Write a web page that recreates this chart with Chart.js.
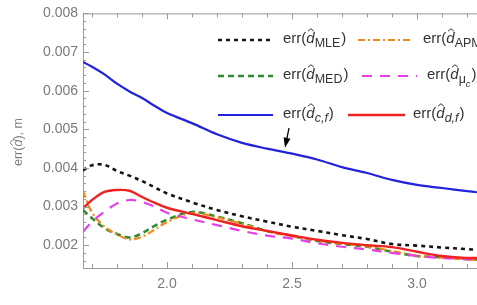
<!DOCTYPE html>
<html>
<head>
<meta charset="utf-8">
<script src="https://cdn.jsdelivr.net/npm/chart.js@4"></script>
<style>
  html, body { margin: 0; padding: 0; background: #fff; }
  #wrap { width: 477px; height: 305px; }
</style>
</head>
<body>
<div id="wrap"><canvas id="chart" width="477" height="305"></canvas></div>
<script>
// data
const xs      = [1.664, 1.70, 1.75, 1.80, 1.85, 1.90, 1.95, 2.0, 2.1, 2.2, 2.3, 2.4, 2.5, 2.6, 2.7, 2.8, 2.9, 3.0, 3.1, 3.2, 3.24];
const errMLE  = [0.00394, 0.00407, 0.00408, 0.00392, 0.00380, 0.00366, 0.00350, 0.00334, 0.00311, 0.00291, 0.00275, 0.00261, 0.00248, 0.00237, 0.00226, 0.00216, 0.00203, 0.00199, 0.00194, 0.00190, 0.00188];
const errAPM  = [0.00340, 0.00285, 0.00248, 0.00228, 0.00215, 0.00222, 0.00240, 0.00260, 0.00283, 0.00272, 0.00255, 0.00236, 0.00223, 0.00212, 0.00204, 0.00197, 0.00185, 0.00173, 0.00168, 0.00163, 0.00162];
const errMED  = [0.00291, 0.00270, 0.00244, 0.00229, 0.00220, 0.00231, 0.00250, 0.00266, 0.00286, 0.00274, 0.00257, 0.00237, 0.00224, 0.00211, 0.00203, 0.00196, 0.00183, 0.00172, 0.00169, 0.00164, 0.00163];
const errMuC  = [0.00235, 0.00261, 0.00287, 0.00308, 0.00317, 0.00312, 0.00300, 0.00284, 0.00267, 0.00252, 0.00237, 0.00225, 0.00217, 0.00205, 0.00196, 0.00189, 0.00180, 0.00172, 0.00167, 0.00164, 0.00162];
const errCF   = [0.00674, 0.00662, 0.00642, 0.00618, 0.00598, 0.00581, 0.00561, 0.00542, 0.00516, 0.00487, 0.00465, 0.00450, 0.00437, 0.00422, 0.00402, 0.00387, 0.00369, 0.00356, 0.00348, 0.00340, 0.00337];
const errDF   = [0.00296, 0.00317, 0.00338, 0.00343, 0.00341, 0.00325, 0.00310, 0.00297, 0.00281, 0.00265, 0.00249, 0.00237, 0.00225, 0.00214, 0.00206, 0.00200, 0.00195, 0.00183, 0.00172, 0.00167, 0.00167];

const xTicks = [2.0, 2.5, 3.0];
const yTicks = [0.002, 0.003, 0.004, 0.005, 0.006, 0.007, 0.008];
const xRange = [1.664, 3.24];
const yRange = [0.00141, 0.008];

// legend subscripts: t = text, it = italic, sub = second-level subscript
const subMLE = [{ t: 'MLE' }];
const subAPM = [{ t: 'APM' }];
const subMED = [{ t: 'MED' }];
const subMuC = [{ t: 'μ' }, { t: 'c', it: true, sub: true }];
const subCF  = [{ t: 'c,f', it: true }];
const subDF  = [{ t: 'd,f', it: true }];

const pts = ys => xs.map((x, i) => ({ x: x, y: ys[i] }));

function series(label, ys, color, dash, width, order) {
    return {
        label: label.map(s => s.t).join(''),
        sub: label,
        data: pts(ys),
        borderColor: color,
        backgroundColor: color,
        borderDash: dash,
        borderWidth: width,
        pointRadius: 0,
        tension: 0.35,
        fill: false,
        order: order
    };
}

const FONT = '"Liberation Sans", Arial, sans-serif';

function drawHatD(ctx, x, y, size) {
    // italic d with a hat over it
    ctx.font = 'italic ' + size + 'px ' + FONT;
    ctx.fillText('d', x, y);
    const w = ctx.measureText('d').width;
    const cx = x + w * 0.55;
    const top = y - size * 0.95;
    ctx.beginPath();
    ctx.moveTo(cx - 3, top + 2.5);
    ctx.lineTo(cx, top);
    ctx.lineTo(cx + 3, top + 2.5);
    ctx.lineWidth = 1;
    ctx.stroke();
    return w;
}

function drawErr(ctx, x, y, sub, size, subSize) {
    ctx.font = size + 'px ' + FONT;
    ctx.fillText('err(', x, y);
    x += ctx.measureText('err(').width;
    x += drawHatD(ctx, x, y, size);
    sub.forEach(s => {
        const sz = s.sub ? subSize - 3 : subSize;
        const dy = s.sub ? 8 : 4;
        ctx.font = (s.it ? 'italic ' : '') + sz + 'px ' + FONT;
        ctx.fillText(s.t, x, y + dy);
        x += ctx.measureText(s.t).width;
    });
    ctx.font = size + 'px ' + FONT;
    ctx.fillText(')', x + 1, y);
}

const framePlugin = {
    id: 'frame',
    afterDatasetsDraw(chart) {
        const { ctx, chartArea: a, scales: { x, y } } = chart;
        ctx.save();
        ctx.strokeStyle = '#9a9a9a';
        ctx.lineWidth = 1;
        ctx.beginPath();
        ctx.moveTo(a.left, a.top + 0.5);
        ctx.lineTo(a.right, a.top + 0.5);
        // x ticks, every 0.1, on bottom and top, pointing in
        for (let i = 17; i <= 32; i++) {
            const v = i / 10;
            const px = Math.round(x.getPixelForValue(v)) + 0.5;
            const len = (i % 5 === 0) ? 6 : 4;
            ctx.moveTo(px, a.bottom);
            ctx.lineTo(px, a.bottom - len);
            ctx.moveTo(px, a.top);
            ctx.lineTo(px, a.top + len);
        }
        // y ticks, every 0.0002, pointing in
        for (let i = 8; i <= 40; i++) {
            const v = i * 0.0002;
            const py = Math.round(y.getPixelForValue(v)) + 0.5;
            const len = (i % 5 === 0) ? 6 : 3;
            ctx.moveTo(a.left, py);
            ctx.lineTo(a.left + len, py);
        }
        ctx.stroke();

        // arrow pointing at the blue curve
        const x0 = x.getPixelForValue(2.488), y0 = y.getPixelForValue(0.00503);
        const x1 = x.getPixelForValue(2.472), y1 = y.getPixelForValue(0.00452);
        const ang = Math.atan2(y1 - y0, x1 - x0);
        ctx.strokeStyle = '#000';
        ctx.fillStyle = '#000';
        ctx.lineWidth = 1.3;
        ctx.beginPath();
        ctx.moveTo(x0, y0);
        ctx.lineTo(x1 - Math.cos(ang) * 6, y1 - Math.sin(ang) * 6);
        ctx.stroke();
        ctx.beginPath();
        ctx.moveTo(x1, y1);
        ctx.lineTo(x1 - Math.cos(ang) * 10 + Math.sin(ang) * 3.5, y1 - Math.sin(ang) * 10 - Math.cos(ang) * 3.5);
        ctx.lineTo(x1 - Math.cos(ang) * 10 - Math.sin(ang) * 3.5, y1 - Math.sin(ang) * 10 + Math.cos(ang) * 3.5);
        ctx.closePath();
        ctx.fill();

        // y axis title
        ctx.fillStyle = '#808080';
        ctx.strokeStyle = '#808080';
        ctx.textBaseline = 'alphabetic';
        ctx.translate(22, 166);
        ctx.rotate(-Math.PI / 2);
        ctx.font = '12.5px ' + FONT;
        let tx = 0;
        ctx.fillText('err(', tx, 0);
        tx += ctx.measureText('err(').width;
        tx += drawHatD(ctx, tx, 0, 12.5);
        ctx.font = '12.5px ' + FONT;
        ctx.fillText('), m', tx, 0);
        ctx.restore();
    }
};

const legendPlugin = {
    id: 'mlegend',
    afterDraw(chart) {
        const ctx = chart.ctx;
        // line start, line end, text start for each legend item
        const slots = [
            [218, 273, 283], [358, 412, 423],
            [218, 273, 283], [362, 417, 427],
            [218, 273, 283], [348, 405, 413]
        ];
        const rows = [40, 76, 115];
        ctx.save();
        chart.data.datasets.forEach((ds, i) => {
            const c = slots[i];
            const ry = rows[Math.floor(i / 2)];
            ctx.strokeStyle = ds.borderColor;
            ctx.lineWidth = ds.borderWidth;
            ctx.setLineDash(ds.borderDash || []);
            ctx.beginPath();
            ctx.moveTo(c[0], ry);
            ctx.lineTo(c[1], ry);
            ctx.stroke();
            ctx.setLineDash([]);
            ctx.fillStyle = '#333';
            ctx.strokeStyle = '#333';
            ctx.textBaseline = 'alphabetic';
            drawErr(ctx, c[2], ry + 3, ds.sub, 15, 12.5);
        });
        ctx.restore();
    }
};

new Chart(document.getElementById('chart'), {
    type: 'line',
    data: {
        datasets: [
            series(subMLE, errMLE, '#141414', [4, 4], 2.6, 3),
            series(subAPM, errAPM, '#ef8a1a', [7, 3, 2, 3], 2.2, 4),
            series(subMED, errMED, '#2e8b2e', [6, 4], 2.6, 5),
            series(subMuC, errMuC, '#e83ee8', [10, 8], 2.2, 2),
            series(subCF,  errCF,  '#2222dd', [], 2.2, 6),
            series(subDF,  errDF,  '#ee2222', [], 2.4, 1)
        ]
    },
    options: {
        responsive: false,
        animation: false,
        layout: { padding: { top: 13, right: 0, left: 0, bottom: 0 } },
        plugins: { legend: { display: false }, tooltip: { enabled: false } },
        scales: {
            x: {
                type: 'linear',
                min: xRange[0],
                max: xRange[1],
                afterBuildTicks: s => { s.ticks = xTicks.map(v => ({ value: v })); },
                afterFit: s => { s.height = 37; },
                grid: { display: false, drawTicks: false },
                border: { display: true, color: '#9a9a9a', width: 1 },
                ticks: {
                    padding: 8,
                    color: '#7a7a7a',
                    font: { size: 14, family: FONT },
                    callback: v => v.toFixed(1)
                }
            },
            y: {
                type: 'linear',
                min: yRange[0],
                max: yRange[1],
                afterBuildTicks: s => { s.ticks = yTicks.map(v => ({ value: v })); },
                afterFit: s => { s.width = 83; },
                grid: { display: false, drawTicks: false },
                border: { display: true, color: '#9a9a9a', width: 1 },
                ticks: {
                    padding: 5,
                    color: '#7a7a7a',
                    font: { size: 14, family: FONT },
                    callback: v => v.toFixed(3)
                }
            }
        }
    },
    plugins: [framePlugin, legendPlugin]
});
</script>
</body>
</html>
